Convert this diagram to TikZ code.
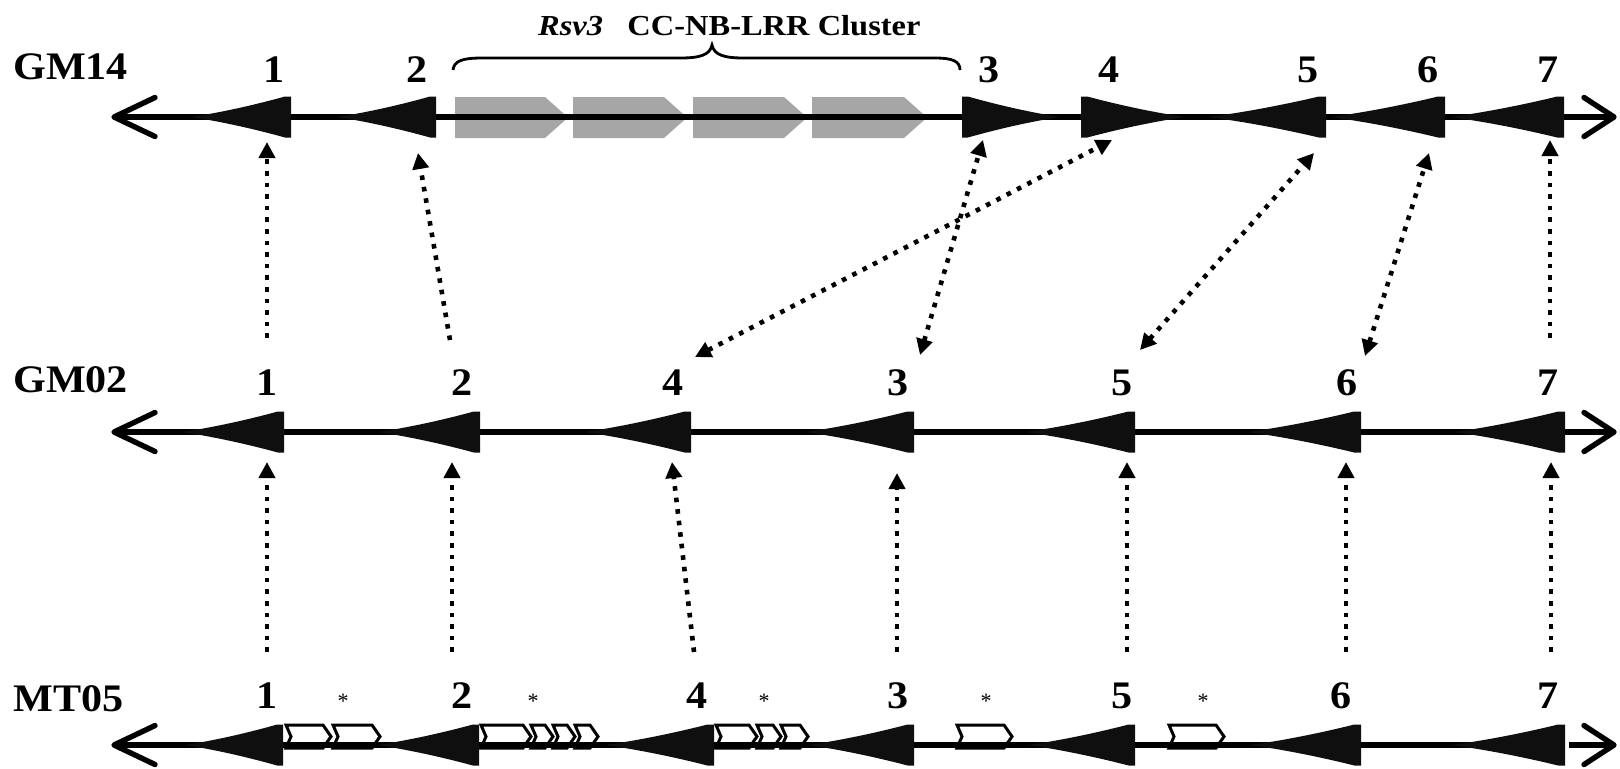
\documentclass[tikz,border=0pt]{standalone}
\usepackage{fontspec}
\setmainfont{Liberation Serif}
\usetikzlibrary{arrows.meta}
\definecolor{gfill}{HTML}{0F0F0F}
\definecolor{gblk}{HTML}{A6A6A6}
\newcommand{\mygene}[3]{% tip x, base x, line y
  \fill[genefill] (#1,#3) .. controls ({#1+0.33*(#2-#1)},{#3-5}) and ({#1+0.67*(#2-#1)},{#3-13}) .. ({#2+0.06*(#1-#2)},{#3-20.5}) -- (#2,{#3-20.5}) -- (#2,{#3+20.5}) -- ({#2+0.06*(#1-#2)},{#3+20.5}) .. controls ({#1+0.67*(#2-#1)},{#3+13}) and ({#1+0.33*(#2-#1)},{#3+5}) .. cycle;}
\newcommand{\myblk}[2]{\fill[grayblk] (#1,97) -- ({#2-23},97) -- (#2,117.5) -- ({#2-23},138) -- (#1,138) -- cycle;}
\newcommand{\mychev}[2]{\draw[chev] (#1,725) -- ({#2-8},725) -- (#2,736.5) -- ({#2-8},748) -- (#1,748) -- ({#1+5},736.5) -- cycle;}
\begin{document}
\begin{tikzpicture}[x=0.5pt,y=-0.5pt,
  mainline/.style={line width=3.3pt},
  endarr/.style={line width=2.7pt, line cap=round, line join=round},
  genefill/.style={fill=gfill},
  grayblk/.style={fill=gblk},
  chev/.style={draw=black, fill=white, line width=1.5pt, line join=miter},
  link/.style={line width=2.3pt, dash pattern=on 2.3pt off 3.5pt},
  tipA/.style={-{Triangle[length=8pt,width=8pt]}},
  tipAB/.style={{Triangle[length=8pt,width=8pt]}-{Triangle[length=8pt,width=8pt]}},
  lbl/.style={inner sep=0pt, anchor=base west, font=\fontsize{19.5}{22}\selectfont\bfseries},
  num/.style={inner sep=0pt, anchor=base, font=\fontsize{19.5}{22}\selectfont\bfseries},
  ast/.style={inner sep=0pt, font=\fontsize{11}{12}\selectfont},
  brace/.style={line width=1.4pt}
]
\useasboundingbox (0,0) rectangle (1620,768);

% ---------- row labels ----------
\node[lbl] (gm14) at (13,79) {\scalebox{1.08}[1]{GM14}};
\node[lbl] (gm02) at (13,392) {\scalebox{1.08}[1]{GM02}};
\node[lbl] (mt05) at (13,711) {\scalebox{1.08}[1]{MT05}};

% ---------- title and brace ----------
\node[inner sep=0pt, anchor=base east, font=\fontsize{14.5}{16}\selectfont\bfseries] (title) at (921,35)
  {\scalebox{1.12}[1]{\textit{Rsv3}\hspace{0.75em}CC-NB-LRR Cluster}};
\draw[brace] (453,70) .. controls (454,61) and (462,58) .. (482,58) -- (680,58)
  .. controls (700,58) and (710,55) .. (712,45)
  .. controls (714,55) and (724,58) .. (744,58) -- (935,58)
  .. controls (952,58) and (960,61) .. (960,70);

% ---------- gray cluster blocks (GM14) ----------
\myblk{455}{568}
\myblk{573}{687}
\myblk{693}{807}
\myblk{812}{927}

% ---------- chevrons (MT05) ----------
\mychev{286}{331}
\mychev{333}{380}
\mychev{481}{531}
\mychev{531}{553}
\mychev{553}{575}
\mychev{575}{598}
\mychev{716}{757}
\mychev{757}{781}
\mychev{781}{808}
\mychev{957}{1012}
\mychev{1169}{1224}

% ---------- chromosome lines ----------
\coordinate (r1a) at (114,117); \coordinate (r1b) at (1614,117);
\coordinate (r2a) at (114,432); \coordinate (r2b) at (1614,432);
\coordinate (r3a) at (114,745); \coordinate (r3m) at (1565,745);
\coordinate (r3c) at (1569,745); \coordinate (r3b) at (1614,745);
\draw[mainline] (r1a) -- (r1b);
\draw[mainline] (r2a) -- (r2b);
\draw[mainline] (r3a) -- (r3m);
\draw[mainline] (r3c) -- (r3b);
\draw[endarr] (r1a) ++(41,-19.5) -- (r1a) -- ++(41,19.5);
\draw[endarr] (r1b) ++(-30,-19.5) -- (r1b) -- ++(-30,19.5);
\draw[endarr] (r2a) ++(41,-19.5) -- (r2a) -- ++(41,19.5);
\draw[endarr] (r2b) ++(-30,-19.5) -- (r2b) -- ++(-30,19.5);
\draw[endarr] (r3a) ++(41,-19.5) -- (r3a) -- ++(41,19.5);
\draw[endarr] (r3b) ++(-30,-19.5) -- (r3b) -- ++(-30,19.5);

% ---------- genes GM14 ----------
\mygene{191}{291}{117}
\mygene{337}{436}{117}
\mygene{1060}{962}{117}
\mygene{1185}{1081}{117}
\mygene{1208}{1326}{117}
\mygene{1330}{1445}{117}
\mygene{1450}{1564}{117}
% ---------- genes GM02 ----------
\mygene{182}{284}{432}
\mygene{378}{480}{432}
\mygene{584}{691}{432}
\mygene{805}{914}{432}
\mygene{1025}{1135}{432}
\mygene{1247}{1361}{432}
\mygene{1454}{1565}{432}
% ---------- genes MT05 ----------
\mygene{185}{283}{745}
\mygene{377}{479}{745}
\mygene{605}{714}{745}
\mygene{808}{914}{745}
\mygene{1028}{1135}{745}
\mygene{1250}{1361}{745}
\mygene{1451}{1565}{745}

% ---------- gene numbers ----------
\foreach \n/\x in {1/274,2/417,3/989,4/1109,5/1308,6/1428,7/1548}
  \node[num] (a\n) at (\x,82) {\scalebox{1.08}[1]{\n}};
\foreach \n/\x in {1/267,2/462,4/673,3/898,5/1122,6/1347,7/1548}
  \node[num] (b\n) at (\x,395) {\scalebox{1.08}[1]{\n}};
\foreach \n/\x in {1/267,2/462,4/697,3/898,5/1122,6/1341,7/1548}
  \node[num] (c\n) at (\x,708) {\scalebox{1.08}[1]{\n}};

% ---------- asterisks ----------
\foreach \i/\x in {1/343,2/533,3/764,4/986,5/1203}
  \node[ast] (s\i) at (\x,701) {*};

% ---------- link end points ----------
\coordinate (t1) at (267,142);  \coordinate (u1) at (267,338);
\coordinate (t2) at (418,153);  \coordinate (u2) at (450,340);
\coordinate (t3) at (983,140);  \coordinate (u3) at (920,355);
\coordinate (t4) at (1112,140); \coordinate (u4) at (695,357);
\coordinate (t5) at (1314,153); \coordinate (u5) at (1140,350);
\coordinate (t6) at (1429,153); \coordinate (u6) at (1365,356);
\coordinate (t7) at (1550,140); \coordinate (u7) at (1550,338);

\coordinate (v1) at (267,462);  \coordinate (w1) at (267,652);
\coordinate (v2) at (452,462);  \coordinate (w2) at (452,652);
\coordinate (v4) at (672,462);  \coordinate (w4) at (694,652);
\coordinate (v3) at (897,473);  \coordinate (w3) at (897,652);
\coordinate (v5) at (1127,462); \coordinate (w5) at (1127,652);
\coordinate (v6) at (1346,462); \coordinate (w6) at (1346,652);
\coordinate (v7) at (1551,462); \coordinate (w7) at (1551,652);

% ---------- links GM02 -> GM14 ----------
\draw[link,tipA] (u1) -- (t1);
\draw[link,tipA] (u2) -- (t2);
\draw[link,tipAB] (u3) -- (t3);
\draw[link,tipAB] (u4) -- (t4);
\draw[link,tipAB] (u5) -- (t5);
\draw[link,tipAB] (u6) -- (t6);
\draw[link,tipA] (u7) -- (t7);
% ---------- links MT05 -> GM02 ----------
\foreach \k in {1,2,4,3,5,6,7}
  \draw[link,tipA] (w\k) -- (v\k);
\end{tikzpicture}
\end{document}
